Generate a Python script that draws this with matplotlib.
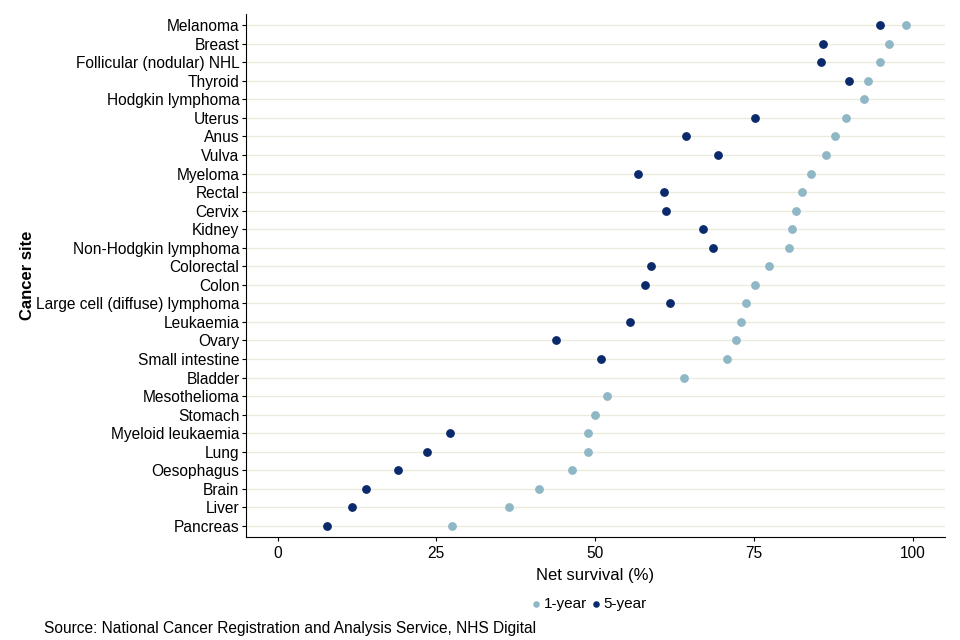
import matplotlib.pyplot as plt

plt.rcParams['font.family'] = ['Liberation Sans', 'DejaVu Sans']

# cancer sites, top to bottom
sites = ['Melanoma', 'Breast', 'Follicular (nodular) NHL', 'Thyroid', 'Hodgkin lymphoma',
         'Uterus', 'Anus', 'Vulva', 'Myeloma', 'Rectal', 'Cervix', 'Kidney',
         'Non-Hodgkin lymphoma', 'Colorectal', 'Colon', 'Large cell (diffuse) lymphoma',
         'Leukaemia', 'Ovary', 'Small intestine', 'Bladder', 'Mesothelioma', 'Stomach',
         'Myeloid leukaemia', 'Lung', 'Oesophagus', 'Brain', 'Liver', 'Pancreas']

one_year = [98.9, 96.2, 94.9, 92.9, 92.3, 89.4, 87.7, 86.3, 84.0, 82.5, 81.6, 81.0,
            80.5, 77.3, 75.2, 73.7, 73.0, 72.1, 70.7, 63.9, 51.9, 49.9, 48.9, 48.8,
            46.3, 41.2, 36.4, 27.4]
# None where no 5-year figure is shown
five_year = [94.8, 85.9, 85.5, 89.9, None, 75.1, 64.3, 69.3, 56.7, 60.8, 61.2, 67.0,
             68.5, 58.8, 57.8, 61.7, 55.4, 43.8, 50.9, None, None, None, 27.2, 23.5,
             19.0, 14.0, 11.8, 7.8]

c1 = '#8FB7C6'
c5 = '#0B2A6B'

fig = plt.figure(figsize=(9.6, 6.4), dpi=100)
ax = fig.add_axes([0.256, 0.161, 0.728, 0.817])

n = len(sites)
ypos = [n - 1 - i for i in range(n)]

ax.scatter(one_year, ypos, s=28, color=c1, zorder=3, label='1-year')
y5 = [y for y, v in zip(ypos, five_year) if v is not None]
v5 = [v for v in five_year if v is not None]
ax.scatter(v5, y5, s=28, color=c5, zorder=3, label='5-year')

ax.set_yticks(ypos)
ax.set_yticklabels(sites, fontsize=11.2)
ax.set_xticks([0, 25, 50, 75, 100])
ax.set_xticklabels(['0', '25', '50', '75', '100'], fontsize=11.2)
ax.set_xlim(-5, 105)
ax.set_ylim(-0.6, n - 0.4)

ax.grid(axis='y', color='#EBEBDD', linewidth=1)
ax.set_axisbelow(True)
for s in ['top', 'right']:
    ax.spines[s].set_visible(False)
for s in ['left', 'bottom']:
    ax.spines[s].set_color('black')
ax.tick_params(length=3, color='black', labelcolor='black')
ax.tick_params(axis='y', pad=1.5)

ax.set_xlabel('Net survival (%)', fontsize=12, labelpad=5)
ax.set_ylabel('Cancer site', fontsize=12, fontweight='bold', labelpad=1)

ax.legend(loc='center', bbox_to_anchor=(0.49, -0.128), ncol=2, frameon=False,
          fontsize=11, handletextpad=0.1, columnspacing=0.2, markerscale=0.7,
          handlelength=0.8)

fig.text(0.046, 0.006, 'Source: National Cancer Registration and Analysis Service, NHS Digital',
         fontsize=11.2, ha='left', va='bottom')

fig.savefig('out.png', dpi=100)
